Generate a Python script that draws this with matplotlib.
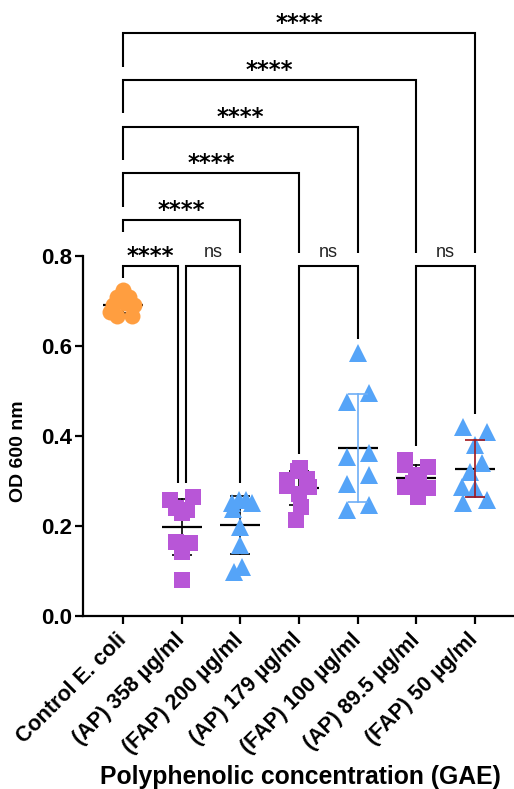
import matplotlib
matplotlib.use('Agg')
import matplotlib.pyplot as plt
import numpy as np

# ---------------- data ----------------
categories = ['Control E. coli', '(AP) 358 µg/ml', '(FAP) 200 µg/ml', '(AP) 179 µg/ml',
              '(FAP) 100 µg/ml', '(AP) 89.5 µg/ml', '(FAP) 50 µg/ml']

control_vals = [0.724, 0.709, 0.709, 0.691, 0.696, 0.691, 0.676, 0.667, 0.667]
ap358_vals = [0.265, 0.258, 0.240, 0.235, 0.230, 0.165, 0.162, 0.142, 0.080]
fap200_vals = [0.252, 0.257, 0.257, 0.252, 0.238, 0.198, 0.158, 0.109, 0.098]
ap179_vals = [0.330, 0.322, 0.305, 0.302, 0.290, 0.286, 0.272, 0.242, 0.213]
fap100_vals = [0.585, 0.495, 0.475, 0.362, 0.354, 0.313, 0.293, 0.247, 0.235]
ap895_vals = [0.347, 0.336, 0.331, 0.313, 0.310, 0.295, 0.287, 0.284, 0.265]
fap50_vals = [0.420, 0.409, 0.380, 0.340, 0.320, 0.287, 0.283, 0.258, 0.251]

# horizontal scatter offsets of the points (category units)
control_jit = [0.0, -0.10, 0.10, -0.17, 0.03, 0.19, -0.23, -0.10, 0.16]
ap358_jit = [0.19, -0.20, -0.09, 0.09, 0.0, -0.10, 0.14, 0.0, 0.0]
fap200_jit = [-0.14, -0.02, 0.09, 0.20, -0.12, 0.0, 0.0, 0.03, -0.10]
ap179_jit = [0.02, -0.02, 0.14, -0.20, -0.20, 0.17, 0.0, 0.03, -0.05]
fap100_jit = [0.0, 0.20, -0.19, 0.20, -0.19, 0.20, -0.19, 0.20, -0.19]
ap895_jit = [-0.20, -0.20, 0.19, 0.0, 0.05, -0.05, -0.20, 0.19, 0.03]
fap50_jit = [-0.20, 0.20, 0.0, 0.12, -0.09, -0.22, 0.0, 0.20, -0.20]

# significance comparisons (group a, group b, label)
comparisons = [(0, 1, '****'), (1, 2, 'ns'), (3, 4, 'ns'), (5, 6, 'ns'),
               (0, 2, '****'), (0, 3, '****'), (0, 4, '****'), (0, 5, '****'), (0, 6, '****')]

yticks = [0.0, 0.2, 0.4, 0.6, 0.8]

groups = [control_vals, ap358_vals, fap200_vals, ap179_vals, fap100_vals, ap895_vals, fap50_vals]
jitters = [control_jit, ap358_jit, fap200_jit, ap179_jit, fap100_jit, ap895_jit, fap50_jit]

# ---------------- style ----------------
markers = ['o', 's', '^', 's', '^', 's', '^']
msizes = [11.5, 11.5, 12.5, 11.5, 12.5, 11.5, 12.5]
orange, purple, blue = '#FF9E40', '#B856D7', '#55A4F8'
colors = [orange, purple, blue, purple, blue, purple, blue]
err_colors = ['black', 'black', 'black', 'black', '#6EAEF6', 'black', '#A3171B']
err_on_top = [False, False, False, False, True, False, True]

W, H = 514, 789
fig = plt.figure(figsize=(W / 100, H / 100), dpi=100)
ax_l, ax_r, ax_t, ax_b = 83, 513, 256, 616
ax = fig.add_axes([ax_l / W, 1 - ax_b / H, (ax_r - ax_l) / W, (ax_b - ax_t) / H])
ax.set_xlim(-0.682, 6.647)
ax.set_ylim(0, 0.8)

px_y = 0.8 / (ax_b - ax_t)          # data units per pixel (y)
px_x = 7.329 / (ax_r - ax_l)         # data units per pixel (x)

for i, (vals, jit) in enumerate(zip(groups, jitters)):
    v = np.asarray(vals)
    x = i + np.asarray(jit)
    m = v.mean()
    sd = v.std(ddof=1)
    z_err = 4 if err_on_top[i] else 2
    ax.plot([i - 0.34, i + 0.34], [m, m], color='black', lw=1.6,
            zorder=2.5 if err_on_top[i] else 2, solid_capstyle='butt')
    ax.plot([i, i], [m - sd, m + sd], color=err_colors[i], lw=1.2, zorder=z_err)
    for yy in (m - sd, m + sd):
        ax.plot([i - 0.17, i + 0.17], [yy, yy], color=err_colors[i], lw=1.2, zorder=z_err,
                solid_capstyle='butt')
    ax.plot(x, v, linestyle='none', marker=markers[i], markersize=msizes[i],
            color=colors[i], markeredgewidth=0, zorder=3)

# axes styling
for s in ['top', 'right']:
    ax.spines[s].set_visible(False)
for s in ['left', 'bottom']:
    ax.spines[s].set_linewidth(1.6)
ax.tick_params(axis='both', direction='out', length=6, width=1.6, color='black')
ax.set_yticks(yticks)
ax.set_yticklabels([f'{t:.1f}' for t in yticks], fontsize=16, fontweight='bold',
                   family='Liberation Sans')
ax.tick_params(axis='y', pad=2)
ax.set_xticks(range(len(categories)))
ax.set_xticklabels(categories, rotation=45, ha='right', va='center', rotation_mode='anchor',
                   fontsize=15.5, fontweight='bold', family='Liberation Sans')
ax.tick_params(axis='x', pad=9)

fig.text(19 / W, 1 - 451 / H, 'OD 600 nm', rotation=90, ha='center', va='center',
         fontsize=14, fontweight='bold', family='Liberation Sans')
fig.text(300 / W, 1 - 777 / H, 'Polyphenolic concentration (GAE)', ha='center', va='center',
         fontsize=17.8, fontweight='bold', family='Liberation Sans')

# ---------------- significance brackets ----------------
def ypx(p):
    return (ax_b - p) * px_y

low_level = ypx(266)
big_levels = {2: ypx(220), 3: ypx(173), 4: ypx(127), 5: ypx(80), 6: ypx(33)}
big_left_bottom = {2: ypx(232), 3: ypx(207), 4: ypx(160), 5: ypx(113), 6: ypx(67)}
big_right_bottom = ypx(253)
leg_gap = 0.03
shared_off = 4 * px_x
blw = 1.5

def leg_bottom(g):
    return max(groups[g]) + leg_gap

for a, b, lab in comparisons:
    if a == 0 and b >= 2:
        lvl = big_levels[b]
        xs = [a, a, b, b]
        ys = [big_left_bottom[b], lvl, lvl, big_right_bottom]
    else:
        lvl = low_level
        xa, xb = float(a), float(b)
        if (a, b) == (0, 1):
            xb -= shared_off
            ys = [ypx(278), lvl, lvl, leg_bottom(b)]
        elif (a, b) == (1, 2):
            xa += shared_off
            lb = max(leg_bottom(a), leg_bottom(b))
            ys = [lb, lvl, lvl, lb]
        else:
            ys = [leg_bottom(a), lvl, lvl, leg_bottom(b)]
        xs = [xa, xa, xb, xb]
    ax.plot(xs, ys, color='black', lw=blw, clip_on=False, zorder=1,
            solid_joinstyle='miter', solid_capstyle='butt')
    xc = (xs[0] + xs[-1]) / 2
    if lab == 'ns':
        ax.text(xc, lvl + 9 * px_y, lab, ha='center', va='baseline', fontsize=13,
                family='Liberation Sans', color='#222222', clip_on=False)
    else:
        ax.text(xc, lvl + 3 * px_y, lab, ha='center', va='baseline', fontsize=16.5,
                family='DejaVu Sans', fontweight='bold', color='black', clip_on=False)

fig.savefig('out.png', dpi=100)
